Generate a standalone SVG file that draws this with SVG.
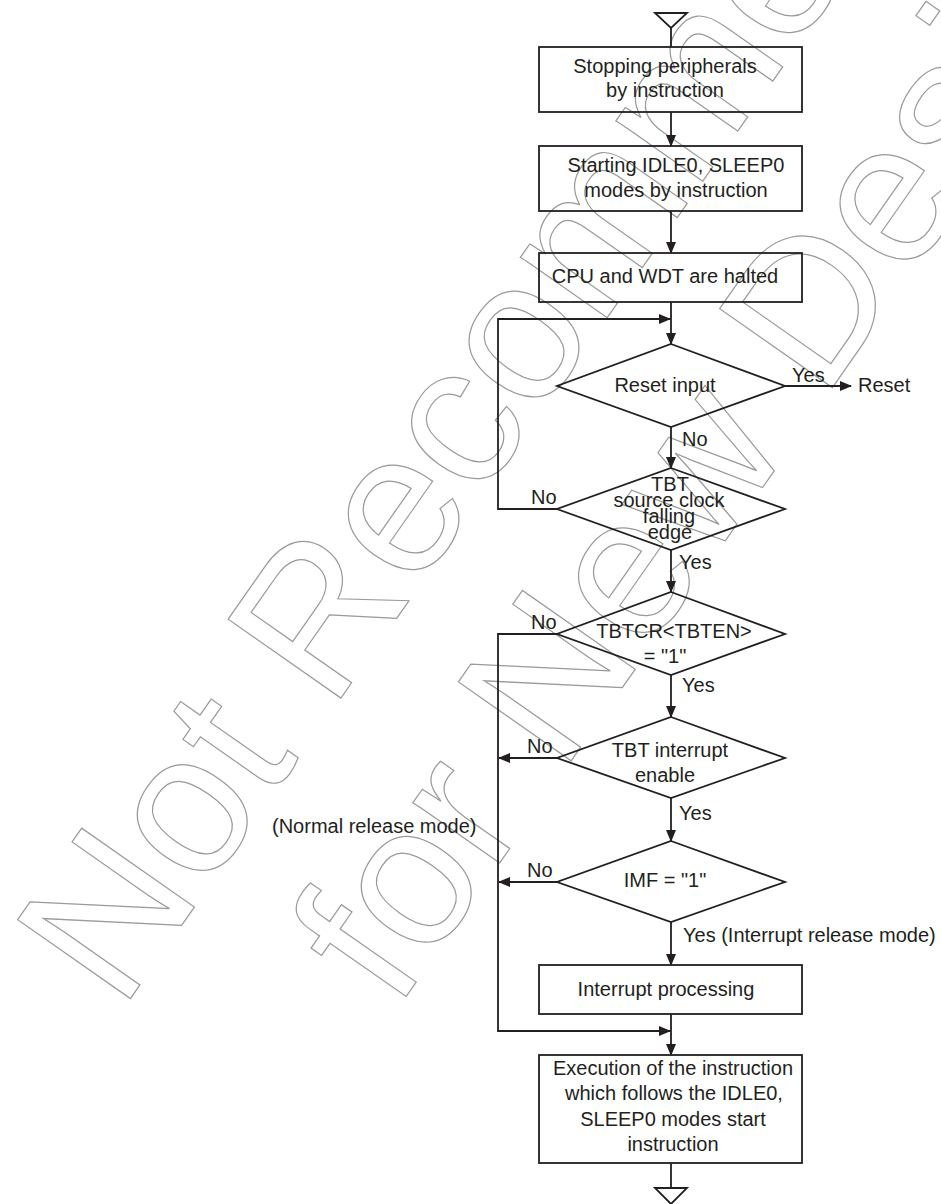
<svg xmlns="http://www.w3.org/2000/svg" width="941" height="1204" viewBox="0 0 941 1204">
<style>
.wm{font-family:"Liberation Sans",Arial,sans-serif;font-size:200px;fill:none;stroke:#9a9a9a;stroke-width:1.2}
.t{font-family:"Liberation Sans",Arial,sans-serif;font-size:20px;fill:#231f20}
.c{text-anchor:middle}
.box{fill:none;stroke:#231f20;stroke-width:1.8}
.ln{fill:none;stroke:#231f20;stroke-width:1.8}
.ar{fill:none;stroke:#231f20;stroke-width:1.8;marker-end:url(#ah)}
</style>
<defs>
<marker id="ah" markerUnits="userSpaceOnUse" markerWidth="12" markerHeight="10" refX="11" refY="5" orient="auto">
<path d="M0,0 L12,5 L0,10 z" fill="#231f20"/>
</marker>
</defs>
<rect width="941" height="1204" fill="#fff"/>
<g id="watermark">
<text class="wm" x="121" y="1012" transform="rotate(-55 121 1012)">Not Recommended</text>
<text class="wm" x="396" y="1011" transform="rotate(-55 396 1011)">for New Design</text>
</g>
<g id="connectors">
<polygon class="ln" points="655,13 687,13 671,28"/>
<line class="ln" x1="671" y1="28" x2="671" y2="47"/>
<line class="ar" x1="671" y1="112" x2="671" y2="146"/>
<line class="ar" x1="671" y1="211" x2="671" y2="253"/>
<line class="ar" x1="671" y1="302" x2="671" y2="344"/>
<path class="ar" d="M557,509 H498 V319 H670"/>
<line class="ar" x1="785" y1="386" x2="851" y2="386"/>
<line class="ar" x1="671" y1="427" x2="671" y2="468"/>
<line class="ar" x1="671" y1="550" x2="671" y2="592"/>
<line class="ar" x1="671" y1="675" x2="671" y2="717"/>
<line class="ar" x1="671" y1="798" x2="671" y2="841"/>
<line class="ar" x1="671" y1="922" x2="671" y2="965"/>
<line class="ar" x1="671" y1="1014" x2="671" y2="1055"/>
<path class="ar" d="M557,634 H498 V1031 H670"/>
<line class="ar" x1="557" y1="758" x2="499" y2="758"/>
<line class="ar" x1="557" y1="882" x2="499" y2="882"/>
<line class="ln" x1="671" y1="1163" x2="671" y2="1188"/>
<polygon class="ln" points="655,1188 687,1188 671,1204"/>
<text class="t" x="792" y="382">Yes</text>
<text class="t" x="682" y="446">No</text>
<text class="t" x="531" y="504">No</text>
<text class="t" x="679" y="569">Yes</text>
<text class="t" x="531" y="629">No</text>
<text class="t" x="682" y="692">Yes</text>
<text class="t" x="527" y="753">No</text>
<text class="t" x="679" y="820">Yes</text>
<text class="t" x="527" y="877">No</text>
<text class="t" x="683" y="942">Yes (Interrupt release mode)</text>
<text class="t" x="272" y="833">(Normal release mode)</text>
</g>
<g id="box1">
<rect class="box" x="539" y="47" width="263" height="65"/>
<text class="t c" x="665" y="73">Stopping peripherals</text>
<text class="t c" x="665" y="97">by instruction</text>
</g>
<g id="box2">
<rect class="box" x="539" y="146" width="263" height="65"/>
<text class="t c" x="676" y="172">Starting IDLE0, SLEEP0</text>
<text class="t c" x="676" y="197">modes by instruction</text>
</g>
<g id="box3">
<rect class="box" x="539" y="253" width="263" height="49"/>
<text class="t c" x="665" y="283">CPU and WDT are halted</text>
</g>
<g id="d1">
<polygon class="box" points="671,344 785,386 671,427 557,386"/>
<text class="t c" x="665" y="392">Reset input</text>
</g>
<g id="reset">
<text class="t" x="858" y="392">Reset</text>
</g>
<g id="d2">
<polygon class="box" points="671,468 785,509 671,550 557,509"/>
<text class="t c" x="670" y="491">TBT</text>
<text class="t c" x="669" y="507">source clock</text>
<text class="t c" x="669" y="523">falling</text>
<text class="t c" x="670" y="539">edge</text>
</g>
<g id="d3">
<polygon class="box" points="671,592 785,634 671,675 557,634"/>
<text class="t c" x="674" y="638">TBTCR&lt;TBTEN&gt;</text>
<text class="t c" x="665" y="663">= "1"</text>
</g>
<g id="d4">
<polygon class="box" points="671,717 785,758 671,798 557,758"/>
<text class="t c" x="670" y="757">TBT interrupt</text>
<text class="t c" x="665" y="782">enable</text>
</g>
<g id="d5">
<polygon class="box" points="671,841 785,882 671,922 557,882"/>
<text class="t c" x="665" y="887">IMF = "1"</text>
</g>
<g id="box4">
<rect class="box" x="539" y="965" width="263" height="49"/>
<text class="t c" x="666" y="996">Interrupt processing</text>
</g>
<g id="box5">
<rect class="box" x="539" y="1055" width="263" height="108"/>
<text class="t c" x="673" y="1075">Execution of the instruction</text>
<text class="t c" x="674" y="1100">which follows the IDLE0,</text>
<text class="t c" x="673" y="1126">SLEEP0 modes start</text>
<text class="t c" x="673" y="1151">instruction</text>
</g>
</svg>
